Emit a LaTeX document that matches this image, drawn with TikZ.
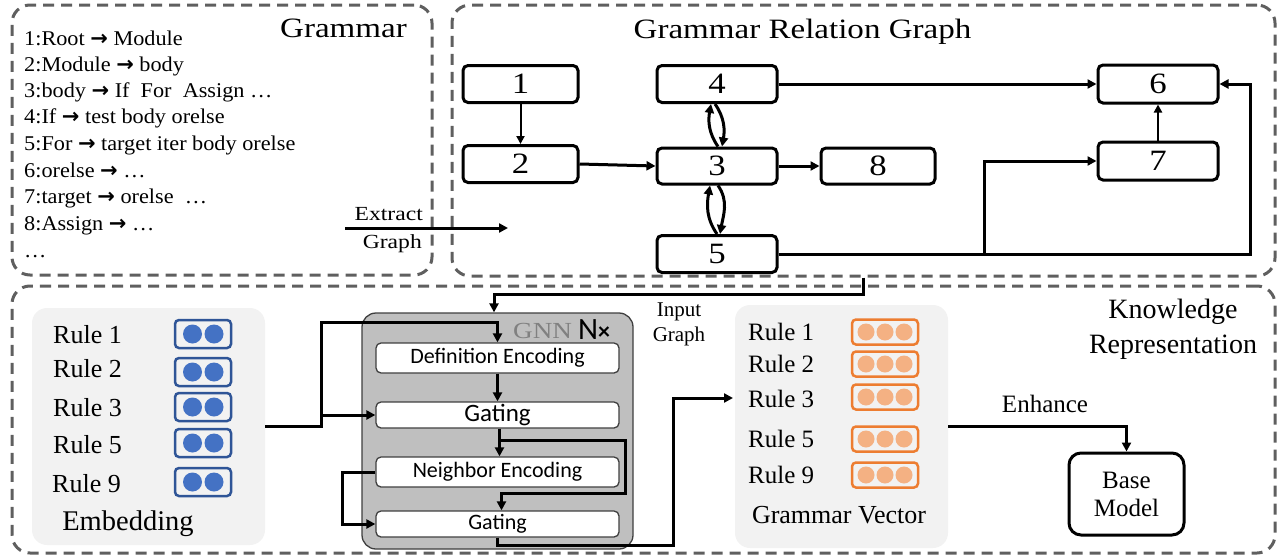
\documentclass[tikz,border=0pt]{standalone}
\usepackage{fontspec}
\setmainfont{Liberation Serif}
\newfontfamily\widefont{Liberation Serif}[FakeStretch=1.18]
\newfontfamily\midfont{Liberation Serif}[FakeStretch=1.06]
\newfontfamily\calfont{Carlito}
\newfontfamily\symfont{DejaVu Sans}
\usetikzlibrary{arrows.meta,calc}

\definecolor{dashgray}{HTML}{5F5F5F}
\definecolor{panelgray}{HTML}{F2F2F2}
\definecolor{gnngray}{HTML}{BFBFBF}
\definecolor{boxedge}{HTML}{3F3F3F}
\definecolor{bluefill}{HTML}{4472C4}
\definecolor{blueedge}{HTML}{2F5597}
\definecolor{orangefill}{HTML}{F4B183}
\definecolor{orangeedge}{HTML}{ED7D31}
\definecolor{gnntext}{HTML}{808080}

% bold arrow used in the production rules
\newcommand{\prodarrow}{{\symfont\bfseries\fontsize{21}{21}\selectfont →}}

\begin{document}
\begin{tikzpicture}[x=1pt,y=1pt,
  region/.style={draw=dashgray, line width=3pt, dash pattern=on 11pt off 7pt,
    rounded corners=18pt, inner sep=0pt},
  gnode/.style={draw, line width=3pt, rounded corners=5pt, inner sep=0pt,
    minimum width=120pt, minimum height=37pt,
    font=\widefont\fontsize{29.5}{30}\selectfont},
  arr/.style={line width=3pt, -{Triangle[length=9pt,width=9pt]}},
  thinarr/.style={line width=2pt, -{Triangle[length=8pt,width=8pt]}},
  ruleline/.style={anchor=base west, inner sep=0pt,
    font=\midfont\fontsize{21}{21}\selectfont},
  panel/.style={fill=panelgray, rounded corners=15pt, inner sep=0pt},
  gnnbox/.style={draw=boxedge, fill=white, line width=1.3pt, rounded corners=5pt,
    minimum width=243pt, inner sep=0pt},
  vecblue/.style={draw=blueedge, line width=2.5pt, rounded corners=4pt,
    minimum width=56pt, minimum height=28pt, inner sep=0pt},
  dotblue/.style={circle, fill=bluefill, minimum size=19pt, inner sep=0pt},
  vecorange/.style={draw=orangeedge, line width=2.5pt, rounded corners=4pt,
    minimum width=66pt, minimum height=25pt, inner sep=0pt},
  dotorange/.style={circle, fill=orangefill, minimum size=17pt, inner sep=0pt},
  emblabel/.style={anchor=base west, inner sep=0pt, font=\fontsize{26}{26}\selectfont},
  veclabel/.style={anchor=base west, inner sep=0pt, font=\fontsize{25}{25}\selectfont},
  serif/.style={inner sep=0pt, font=\fontsize{#1}{#1}\selectfont},
  wideserif/.style={inner sep=0pt, font=\widefont\fontsize{#1}{#1}\selectfont}
]
\useasboundingbox (0,0) rectangle (1283,-557);

% ---------- dashed regions ----------
\node[region, minimum width=420pt, minimum height=270pt] (gram) at (222,-140) {};
\node[region, minimum width=823pt, minimum height=271pt] (grg) at (863.5,-140.5) {};
\node[region, minimum width=1263pt, minimum height=267pt] (kbox) at (643.5,-419.5) {};

% ---------- grammar rules ----------
\node[wideserif=28, anchor=base west] (gramtitle) at (280,-37) {Grammar};
\node[ruleline] (r1) at (24,-45)  {1:Root \prodarrow{} Module};
\node[ruleline] (r2) at (24,-71)  {2:Module \prodarrow{} body};
\node[ruleline] (r3) at (24,-97)  {3:body \prodarrow{} If\ \ For\ \ Assign …};
\node[ruleline] (r4) at (24,-123) {4:If \prodarrow{} test body orelse};
\node[ruleline] (r5) at (24,-150) {5:For \prodarrow{} target iter body orelse};
\node[ruleline] (r6) at (24,-177) {6:orelse \prodarrow{} …};
\node[ruleline] (r7) at (24,-203) {7:target \prodarrow{} orelse\ \ …};
\node[ruleline] (r8) at (24,-230) {8:Assign \prodarrow{} …};
\node[ruleline] (r9) at (24,-257) {…};

% ---------- extract graph arrow ----------
\coordinate (exs) at (345,-228);
\coordinate (exe) at (508,-228);
\draw[arr] (exs) -- (exe);
\node[wideserif=20, anchor=base east] (ext1) at (423,-220) {Extract};
\node[wideserif=20, anchor=base east] (ext2) at (422,-248) {Graph};

% ---------- grammar relation graph ----------
\node[wideserif=28, anchor=base] (grgtitle) at (802.5,-38) {Grammar Relation Graph};
\node[gnode, minimum width=115pt] (n1) at (520.5,-84) {1};
\node[gnode, minimum width=115pt] (n2) at (520.5,-164) {2};
\node[gnode] (n4) at (717,-84) {4};
\node[gnode, minimum height=36pt] (n3) at (717,-166) {3};
\node[gnode] (n5) at (717,-254) {5};
\node[gnode, minimum width=114pt, minimum height=36pt] (n8) at (878,-166) {8};
\node[gnode, minimum height=38pt] (n6) at (1158,-84) {6};
\node[gnode, minimum height=38pt] (n7) at (1158,-161) {7};

\coordinate (x7) at (984,0);
\coordinate (xr) at (1250,0);

\draw[thinarr] (n1) -- (n2);
\draw[arr] (n2.east) -- (n3.west);
\draw[arr] (n3.east) -- (n8.west);
\draw[arr] (n4.east) -- (n6.west);
\draw[thinarr] (n7.north) -- (n6.south);
\draw[arr] (n5.east) -- (n5.east -| x7) |- (n7.west);
\draw[arr] (n5.east -| x7) -- (n5.east -| xr) |- (n6.east);
\draw[arr] ([xshift=1pt]n3.north) to[out=125,in=-100] ([xshift=-6pt]n4.south);
\draw[arr] ([xshift=-2pt]n4.south) to[out=-55,in=80] ([xshift=5pt]n3.north);
\draw[arr] (n5.north) to[out=125,in=-100] ([xshift=-7pt]n3.south);
\draw[arr] ([xshift=1pt]n3.south) to[out=-55,in=80] ([xshift=3pt]n5.north);

% ---------- embedding panel ----------
\node[panel, minimum width=233pt, minimum height=237pt] (emb) at (148.5,-426.5) {};
\node[emblabel] (el1) at (53,-343) {Rule 1};
\node[emblabel] (el2) at (53,-377) {Rule 2};
\node[emblabel] (el3) at (53,-416) {Rule 3};
\node[emblabel] (el5) at (53,-453) {Rule 5};
\node[emblabel] (el9) at (52,-492) {Rule 9};
\foreach \i/\y in {1/334, 2/372, 3/407, 5/443, 9/482} {
  \node[vecblue] (eb\i) at (203,-\y) {};
  \node[dotblue] (eb\i a) at (192.5,-\y) {};
  \node[dotblue] (eb\i b) at (214,-\y) {};
}
\node[serif=28.5, anchor=base] (embtitle) at (128,-530) {Embedding};

% ---------- GNN block ----------
\node[draw=boxedge, fill=gnngray, line width=1.3pt, rounded corners=14pt,
  minimum width=271pt, minimum height=236pt, inner sep=0pt] (gnn) at (497.5,-431) {};
\node[wideserif=23, anchor=base west, text=gnntext] (gnnlabel) at (513,-338) {GNN};
\node[inner sep=0pt, anchor=base west, font=\calfont\fontsize{31}{31}\selectfont] (nx) at (578,-339) {N\textbf{\fontsize{24}{24}\selectfont ×}};
\node[gnnbox, minimum height=30pt, font=\calfont\fontsize{22}{22}\selectfont] (def) at (497.5,-358) {Definition Encoding};
\node[gnnbox, minimum height=26pt, font=\calfont\fontsize{25}{25}\selectfont] (gate1) at (497.5,-415) {Gating};
\node[gnnbox, minimum height=30pt, font=\calfont\fontsize{22}{22}\selectfont] (nbr) at (497.5,-472) {Neighbor Encoding};
\node[gnnbox, minimum height=26pt, font=\calfont\fontsize{22}{22}\selectfont] (gate2) at (497.5,-524) {Gating};

% embedding into the GNN
\coordinate (jE) at (321,-322);
\draw[arr] (emb.east) -| (jE) -| (def.north);
\draw[arr] (jE |- gate1.west) -- (gate1.west);
% flow inside the GNN
\draw[arr] (def.south) -- (gate1.north);
\draw[arr] ([xshift=2pt]gate1.south) -- ([xshift=2pt]nbr.north);
\coordinate (g1j) at (499.5,-440);
\coordinate (rr) at (625,-493);
\draw[arr] (g1j) -| (rr) -| ([xshift=4pt]gate2.north);
\coordinate (lk) at (342,-472);
\draw[arr] (nbr.west) -- (lk) |- (gate2.west);

% graph fed into the GNN
\coordinate (ig) at (494,-294);
\draw[arr] (grg.south) |- (ig) -- (ig |- gnn.north);
\node[serif=21, anchor=base] (in1) at (679,-316) {Input};
\node[serif=21, anchor=base] (in2) at (679,-341) {Graph};

% ---------- grammar vector panel ----------
\node[panel, minimum width=213pt, minimum height=243pt] (gvp) at (841.5,-426.5) {};
\node[veclabel] (gl1) at (748,-340) {Rule 1};
\node[veclabel] (gl2) at (748,-372) {Rule 2};
\node[veclabel] (gl3) at (748,-407) {Rule 3};
\node[veclabel] (gl5) at (748,-447) {Rule 5};
\node[veclabel] (gl9) at (748,-483) {Rule 9};
\foreach \i/\y in {1/332, 2/364, 3/397, 5/439, 9/475} {
  \node[vecorange] (ob\i) at (885,-\y) {};
  \node[dotorange] (ob\i a) at (866,-\y) {};
  \node[dotorange] (ob\i b) at (885,-\y) {};
  \node[dotorange] (ob\i c) at (904,-\y) {};
}
\node[serif=26, anchor=base] (gvtitle) at (839,-523) {Grammar Vector};

% GNN output to the grammar vectors
\coordinate (cB) at (673,-545);
\coordinate (gvin) at (733,-398);
\draw[arr] (gate2.south) |- (cB) |- (gvin);

% ---------- base model ----------
\node[draw, line width=3pt, rounded corners=12pt, minimum width=115pt,
  minimum height=82pt, inner sep=0pt, align=center,
  font=\fontsize{25}{28}\selectfont] (base) at (1126.5,-494) {Base\\Model};
\draw[arr] (gvp.east) -| (base.north);
\node[serif=25] (enh) at (1045,-404) {Enhance};

\node[serif=28, anchor=base] (kr1) at (1173,-318) {Knowledge};
\node[serif=28, anchor=base] (kr2) at (1173,-353) {Representation};
\end{tikzpicture}
\end{document}
